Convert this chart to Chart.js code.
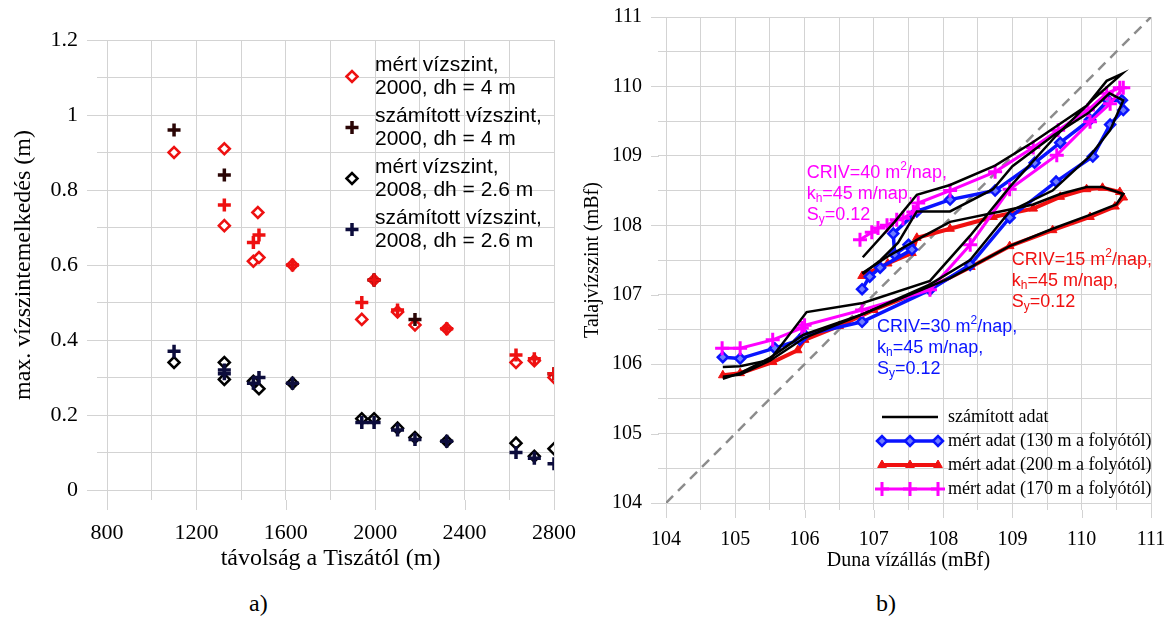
<!DOCTYPE html>
<html>
<head>
<meta charset="utf-8">
<script src="https://cdn.jsdelivr.net/npm/chart.js@4.4.0/dist/chart.umd.min.js"></script>
<style>
body{margin:0;background:#fff;width:1172px;height:628px;position:relative;overflow:hidden}
#wa{position:absolute;left:0;top:0;width:580px;height:580px}
#wb{position:absolute;left:580px;top:0;width:592px;height:580px}
.cap{position:absolute;top:590px;font:24px "Liberation Serif",serif;color:#000}
</style>
</head>
<body>
<div id="wa"><canvas id="chartA"></canvas></div>
<div id="wb"><canvas id="chartB"></canvas></div>
<div class="cap" style="left:249px">a)</div>
<div class="cap" style="left:876px">b)</div>
<script>
// ---- a) max. vízszintemelkedés vs távolság ----
const xTicksA = [800, 1200, 1600, 2000, 2400, 2800];
const yTicksA = [0, 0.2, 0.4, 0.6, 0.8, 1, 1.2];

const distMert2000 = [1100, 1325, 1325, 1475, 1455, 1480, 1630, 1940, 1995, 2100, 2178, 2320, 2630, 2712, 2800];
const mert2000     = [0.90, 0.91, 0.705, 0.74, 0.61, 0.62, 0.60, 0.455, 0.56, 0.475, 0.44, 0.43, 0.34, 0.345, 0.30];

const distSzam2000 = [1100, 1325, 1995, 2178, 2800];
const szam2000     = [0.96, 0.84, 0.56, 0.455, 0.31];

// red crosses (not in the legend)
const distSzam2000b = [1325, 1455, 1480, 1630, 1940, 1995, 2100, 2320, 2630, 2712, 2800];
const szam2000b     = [0.76, 0.66, 0.68, 0.60, 0.50, 0.56, 0.48, 0.43, 0.36, 0.35, 0.31];

const distMert2008 = [1100, 1325, 1325, 1455, 1480, 1630, 1940, 1995, 2100, 2178, 2320, 2630, 2712, 2800];
const mert2008     = [0.34, 0.34, 0.295, 0.29, 0.27, 0.285, 0.19, 0.19, 0.165, 0.14, 0.13, 0.125, 0.09, 0.11];

const distSzam2008 = [1100, 1325, 1325, 1455, 1480, 1630, 1940, 1995, 2100, 2178, 2320, 2630, 2712, 2800];
const szam2008     = [0.37, 0.32, 0.31, 0.285, 0.30, 0.285, 0.18, 0.18, 0.16, 0.135, 0.13, 0.10, 0.085, 0.07];

// ---- b) Talajvízszint vs Duna vízállás ----
const ticksB = [104, 105, 106, 107, 108, 109, 110, 111];

const duna130  = [104.82, 105.07, 105.57, 105.93, 106.0, 106.83, 107.81, 108.39, 108.96, 109.63, 110.16, 110.41, 110.6, 110.58, 110.38, 110.12, 109.69, 109.32, 108.75, 108.1, 107.62, 107.28, 107.3, 107.5, 107.55, 107.09, 106.94, 106.83];
const talaj130 = [106.10, 106.08, 106.23, 106.35, 106.42, 106.61, 107.07, 107.43, 108.11, 108.63, 108.99, 109.45, 109.66, 109.8, 109.8, 109.52, 109.19, 108.9, 108.5, 108.37, 108.2, 107.88, 107.58, 107.72, 107.65, 107.39, 107.26, 107.08];

const duna200  = [104.82, 105.07, 105.54, 105.9, 106.0, 106.5, 107.0, 107.81, 108.4, 108.96, 109.58, 110.12, 110.48, 110.6, 110.55, 110.3, 110.07, 109.69, 109.3, 108.72, 108.1, 107.62, 107.55, 107.2, 106.83];
const talaj200 = [105.84, 105.87, 106.03, 106.2, 106.35, 106.55, 106.78, 107.1, 107.4, 107.7, 107.93, 108.12, 108.27, 108.4, 108.48, 108.54, 108.52, 108.41, 108.24, 108.12, 107.95, 107.82, 107.6, 107.45, 107.27];

const duna170  = [104.81, 105.07, 105.54, 105.96, 106.0, 106.83, 107.81, 108.39, 108.96, 109.64, 110.12, 110.41, 110.6, 110.55, 110.36, 110.09, 109.66, 109.3, 108.75, 108.1, 107.64, 107.57, 107.42, 107.33, 107.19, 107.06, 106.97, 106.8];
const talaj170 = [106.23, 106.23, 106.35, 106.52, 106.56, 106.78, 107.07, 107.72, 108.52, 109.01, 109.49, 109.75, 109.98, 109.98, 109.9, 109.66, 109.37, 109.12, 108.77, 108.5, 108.32, 108.19, 108.1, 108.08, 108.0, 107.96, 107.9, 107.79];

const dunaCalc170  = [104.82, 105.07, 105.5, 106.03, 106.84, 107.81, 108.39, 108.96, 109.64, 110.16, 110.58, 110.36, 110.07, 109.64, 109.3, 108.75, 108.1, 107.62, 107.3, 106.84];
const talajCalc170 = [105.96, 105.97, 106.06, 106.75, 106.88, 107.2, 107.85, 108.55, 109.3, 109.81, 110.18, 110.08, 109.72, 109.43, 109.2, 108.86, 108.58, 108.44, 108.05, 107.54];

const dunaCalc130  = [104.82, 105.07, 105.5, 105.98, 106.84, 107.81, 108.39, 108.96, 109.58, 110.12, 110.41, 110.6, 110.4, 110.1, 109.6, 109.0, 108.72, 108.1, 107.62, 107.35, 107.1, 106.84];
const talajCalc130 = [105.79, 105.87, 106.09, 106.42, 106.72, 107.15, 107.5, 108.2, 108.5, 109.0, 109.37, 109.8, 109.9, 109.62, 109.3, 108.85, 108.52, 108.2, 108.2, 107.75, 107.5, 107.3];

const dunaCalc200  = [104.82, 105.07, 105.5, 106.0, 106.84, 107.81, 108.1, 108.96, 109.58, 110.12, 110.5, 110.6, 110.3, 110.07, 109.69, 109.3, 108.93, 108.1, 107.69, 107.2, 106.83];
const talajCalc200 = [105.82, 105.85, 106.05, 106.38, 106.72, 107.12, 107.24, 107.7, 107.95, 108.15, 108.3, 108.45, 108.55, 108.55, 108.45, 108.3, 108.22, 108.05, 107.83, 107.55, 107.31];

const diagonal = [104, 111];

const pts = (xs, ys) => xs.map((x, i) => ({x: x, y: ys[i]}));
const near = (arr, v) => arr.some(t => Math.abs(t - v) < 1e-6);

const GRID = '#d3d3d3';
const SERIF = '"Liberation Serif", "Times New Roman", serif';
const SANS = '"Liberation Sans", Arial, sans-serif';

// fixed axis sizes; label overhang is covered by layout padding
const fitX = h => s => { s.height = h; s.paddingLeft = 0; s.paddingRight = 0; };
const fitY = w => s => { s.width = w; s.paddingTop = 0; s.paddingBottom = 0; };

// longer tick marks at the labelled values
const extraTicks = {
  id: 'extraTicks',
  afterDraw(chart, args, o) {
    const {ctx, chartArea: a, scales: {x, y}} = chart;
    ctx.save();
    ctx.strokeStyle = o.color;
    ctx.lineWidth = 1;
    ctx.beginPath();
    o.xMajor.forEach(v => {
      const p = Math.round(x.getPixelForValue(v)) + 0.5;
      ctx.moveTo(p, a.bottom + o.minor); ctx.lineTo(p, a.bottom + o.major);
    });
    o.yMajor.forEach(v => {
      const p = Math.round(y.getPixelForValue(v)) + 0.5;
      ctx.moveTo(a.left - o.minor, p); ctx.lineTo(a.left - o.major, p);
    });
    ctx.stroke();
    ctx.restore();
  }
};

function marker(ctx, ds, x, y) {
  ctx.save();
  ctx.fillStyle = ds.pointBackgroundColor || ds.backgroundColor || 'transparent';
  ctx.strokeStyle = ds.pointBorderColor || ds.borderColor;
  ctx.lineWidth = ds.pointBorderWidth;
  Chart.helpers.drawPoint(ctx, {pointStyle: ds.pointStyle, radius: ds.pointRadius, rotation: 0, borderWidth: ds.pointBorderWidth}, x, y);
  ctx.restore();
}

// legend drawn inside the plot area
const innerLegend = {
  id: 'innerLegend',
  afterDatasetsDraw(chart, args, o) {
    const ctx = chart.ctx;
    ctx.save();
    ctx.font = o.font;
    ctx.textBaseline = 'middle';
    o.items.forEach((idx, k) => {
      const ds = chart.data.datasets[idx];
      const y = o.y + k * o.rowStep;
      const lines = [].concat(ds.label);
      if (o.sample === 'marker') {
        const mid = y + (lines.length - 1) * o.lineStep / 2;
        marker(ctx, ds, o.x, mid);
      } else {
        ctx.strokeStyle = ds.borderColor;
        ctx.lineWidth = ds.borderWidth;
        ctx.beginPath();
        ctx.moveTo(o.x, y); ctx.lineTo(o.x + o.len, y);
        ctx.stroke();
        if (ds.pointRadius > 0) {
          [0, 0.5, 1].forEach(f => marker(ctx, ds, o.x + f * o.len, y));
        }
      }
      ctx.fillStyle = '#000';
      lines.forEach((t, j) => ctx.fillText(t, o.textX, y + j * o.lineStep));
    });
    ctx.restore();
  }
};

// text notes with super/subscripts, anchored in data units
const notes = {
  id: 'notes',
  afterDatasetsDraw(chart, args, o) {
    const {ctx, scales: {x, y}} = chart;
    ctx.save();
    ctx.textBaseline = 'middle';
    o.items.forEach(n => {
      const px = x.getPixelForValue(n.x), py = y.getPixelForValue(n.y);
      ctx.fillStyle = n.color;
      n.lines.forEach((parts, j) => {
        let cx = px;
        const cy = py + j * o.lineStep;
        parts.forEach(([t, s]) => {
          ctx.font = s ? o.small : o.font;
          const dy = s === 1 ? -6 : s === -1 ? 5 : 0;
          ctx.fillText(t, cx, cy + dy);
          cx += ctx.measureText(t).width;
        });
      });
    });
    ctx.restore();
  }
};

Chart.defaults.animation = false;
Chart.defaults.color = '#000';

// ---------- chart a ----------
new Chart(document.getElementById('chartA'), {
  type: 'scatter',
  data: {
    datasets: [
      {label: ['mért vízszint,', '2000, dh = 4 m'], data: pts(distMert2000, mert2000),
       pointStyle: 'rectRot', pointRadius: 5.5, pointBorderWidth: 2.5, borderColor: '#ee1111', backgroundColor: '#fff', order: 5},
      {label: ['számított vízszint,', '2000, dh = 4 m'], data: pts(distSzam2000, szam2000),
       pointStyle: 'cross', pointRadius: 6.5, pointBorderWidth: 3.5, borderColor: '#2a0505', backgroundColor: '#2a0505', order: 3},
      {label: ['mért vízszint,', '2008, dh = 2.6 m'], data: pts(distMert2008, mert2008),
       pointStyle: 'rectRot', pointRadius: 5.5, pointBorderWidth: 2.5, borderColor: '#000', backgroundColor: '#fff', order: 4},
      {label: ['számított vízszint,', '2008, dh = 2.6 m'], data: pts(distSzam2008, szam2008),
       pointStyle: 'cross', pointRadius: 6.5, pointBorderWidth: 3.5, borderColor: '#0c0c3c', backgroundColor: '#0c0c3c', order: 1},
      {label: 'számított (2000)', data: pts(distSzam2000b, szam2000b),
       pointStyle: 'cross', pointRadius: 6.5, pointBorderWidth: 3.5, borderColor: '#ee1111', backgroundColor: '#ee1111', order: 2}
    ]
  },
  options: {
    responsive: true,
    maintainAspectRatio: false,
    layout: {padding: {left: 9, top: 40, right: 26, bottom: 7}},
    plugins: {
      legend: {display: false},
      tooltip: {enabled: false},
      extraTicks: {xMajor: xTicksA, yMajor: yTicksA, minor: 10, major: 20, color: GRID},
      innerLegend: {items: [0, 1, 2, 3], sample: 'marker', x: 352, textX: 375, y: 65, rowStep: 51, lineStep: 23,
                    font: '21px ' + SANS}
    },
    scales: {
      x: {
        type: 'linear', min: 800, max: 2800,
        afterFit: fitX(83),
        grid: {color: GRID, tickLength: 10},
        border: {color: GRID},
        ticks: {stepSize: 200, autoSkip: false, maxRotation: 0, padding: 20, font: {family: SERIF, size: 22},
                callback: v => near(xTicksA, v) ? String(v) : ''},
        title: {display: true, text: 'távolság a Tiszától (m)', font: {family: SERIF, size: 24}, padding: 0}
      },
      y: {
        type: 'linear', min: 0, max: 1.2,
        afterFit: fitY(98),
        grid: {color: GRID, tickLength: 10},
        border: {color: GRID},
        ticks: {stepSize: 0.1, autoSkip: false, padding: 19, font: {family: SERIF, size: 22},
                callback: v => near(yTicksA, v) ? String(+v.toFixed(1)) : ''},
        title: {display: true, text: 'max. vízszintemelkedés (m)', font: {family: SERIF, size: 24}, padding: 0}
      }
    }
  },
  plugins: [extraTicks, innerLegend]
});

// ---------- chart b ----------
new Chart(document.getElementById('chartB'), {
  type: 'scatter',
  data: {
    datasets: [
      {label: 'számított adat', data: pts(dunaCalc170, talajCalc170), showLine: true,
       borderColor: '#000', borderWidth: 2.5, pointRadius: 0, order: 1},
      {label: 'mért adat (130 m a folyótól)', data: pts(duna130, talaj130), showLine: true,
       borderColor: '#0a14ff', borderWidth: 3.5, pointStyle: 'rectRot', pointRadius: 5, pointBorderWidth: 2.5,
       pointBorderColor: '#0a14ff', pointBackgroundColor: '#6f7cff', order: 5},
      {label: 'mért adat (200 m a folyótól)', data: pts(duna200, talaj200), showLine: true,
       borderColor: '#f01010', borderWidth: 4, pointStyle: 'triangle', pointRadius: 5, pointBorderWidth: 1,
       pointBorderColor: '#f01010', pointBackgroundColor: '#f01010', order: 6},
      {label: 'mért adat (170 m a folyótól)', data: pts(duna170, talaj170), showLine: true,
       borderColor: '#ff00ff', borderWidth: 3, pointStyle: 'cross', pointRadius: 7, pointBorderWidth: 3,
       pointBorderColor: '#ff00ff', pointBackgroundColor: '#ff00ff', order: 4},
      {label: 'számított adat (130 m)', data: pts(dunaCalc130, talajCalc130), showLine: true,
       borderColor: '#000', borderWidth: 2.5, pointRadius: 0, order: 2},
      {label: 'számított adat (200 m)', data: pts(dunaCalc200, talajCalc200), showLine: true,
       borderColor: '#000', borderWidth: 2.5, pointRadius: 0, order: 3},
      {label: '1:1', data: pts(diagonal, diagonal), showLine: true,
       borderColor: '#8c8c8c', borderWidth: 2.5, borderDash: [10, 7], pointRadius: 0, order: 9}
    ]
  },
  options: {
    responsive: true,
    maintainAspectRatio: false,
    layout: {padding: {left: 1, top: 17, right: 21, bottom: 7}},
    plugins: {
      legend: {display: false},
      tooltip: {enabled: false},
      extraTicks: {xMajor: ticksB, yMajor: ticksB, minor: 7, major: 15, color: GRID},
      innerLegend: {items: [0, 1, 2, 3], sample: 'line', x: 302, len: 56, textX: 368, y: 417, rowStep: 24, lineStep: 20,
                    font: '18px ' + SERIF},
      notes: {
        lineStep: 21, font: '18px ' + SANS, small: '12px ' + SANS,
        items: [
          {x: 106.03, y: 108.755, color: '#ff00ff',
           lines: [[['CRIV=40 m', 0], ['2', 1], ['/nap,', 0]], [['k', 0], ['h', -1], ['=45 m/nap,', 0]], [['S', 0], ['y', -1], ['=0.12', 0]]]},
          {x: 108.99, y: 107.5, color: '#f01010',
           lines: [[['CRIV=15 m', 0], ['2', 1], ['/nap,', 0]], [['k', 0], ['h', -1], ['=45 m/nap,', 0]], [['S', 0], ['y', -1], ['=0.12', 0]]]},
          {x: 107.045, y: 106.54, color: '#0a14ff',
           lines: [[['CRIV=30 m', 0], ['2', 1], ['/nap,', 0]], [['k', 0], ['h', -1], ['=45 m/nap,', 0]], [['S', 0], ['y', -1], ['=0.12', 0]]]}
        ]
      }
    },
    scales: {
      x: {
        type: 'linear', min: 104, max: 111,
        afterFit: fitX(70),
        grid: {color: GRID, tickLength: 7},
        border: {color: GRID},
        ticks: {stepSize: 0.5, autoSkip: false, maxRotation: 0, padding: 18, font: {family: SERIF, size: 20},
                callback: v => near(ticksB, v) ? String(v) : ''},
        title: {display: true, text: 'Duna vízállás (mBf)', font: {family: SERIF, size: 20}, padding: 0}
      },
      y: {
        type: 'linear', min: 104, max: 111,
        afterFit: fitY(85),
        grid: {color: GRID, tickLength: 8},
        border: {color: GRID},
        ticks: {stepSize: 0.5, autoSkip: false, padding: 16, font: {family: SERIF, size: 20},
                callback: v => near(ticksB, v) ? String(v) : ''},
        title: {display: true, text: 'Talajvízszint (mBf)', font: {family: SERIF, size: 20}, padding: 0}
      }
    }
  },
  plugins: [extraTicks, innerLegend, notes]
});
</script>
</body>
</html>
